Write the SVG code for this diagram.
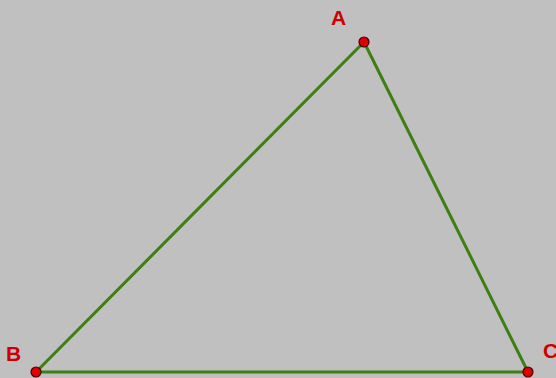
<svg xmlns="http://www.w3.org/2000/svg" width="556" height="378" viewBox="0 0 556 378">
<style>
.edge{stroke:#3c7f12;stroke-width:3;fill:none;stroke-linecap:round}
.pt{fill:#e00000;stroke:#4a0000;stroke-width:1.2}
.lbl{font-family:"Liberation Sans",Arial,sans-serif;font-weight:bold;font-size:21px;fill:#cc0000}
</style>
<rect width="556" height="378" fill="#c0c0c0"/>
<g id="connectors">
<line class="edge" x1="364" y1="42" x2="36" y2="372"/>
<line class="edge" x1="364" y1="42" x2="528" y2="372"/>
<line class="edge" x1="36" y1="372" x2="528" y2="372"/>
</g>
<g id="A"><circle class="pt" cx="364" cy="42" r="5"/><text class="lbl" x="331" y="25">A</text></g>
<g id="B"><circle class="pt" cx="36" cy="372" r="5"/><text class="lbl" x="6" y="361">B</text></g>
<g id="C"><circle class="pt" cx="528" cy="372" r="5"/><text class="lbl" x="543" y="358">C</text></g>
</svg>
